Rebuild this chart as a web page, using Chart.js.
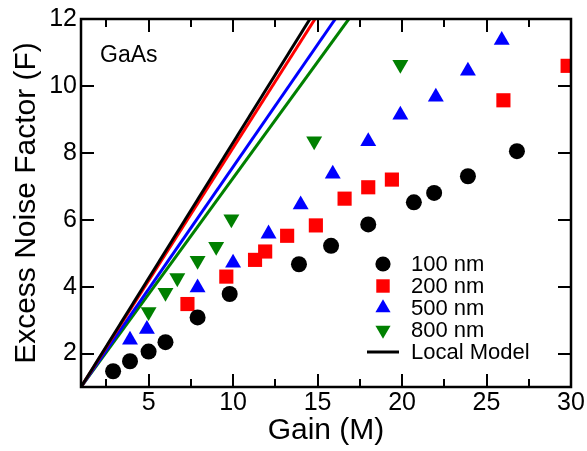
<!DOCTYPE html>
<html>
<head>
<meta charset="utf-8">
<script src="https://cdn.jsdelivr.net/npm/chart.js"></script>
<style>
html,body{margin:0;padding:0;background:#fff;}
#wrap{width:587px;height:451px;}
</style>
</head>
<body>
<div id="wrap"><canvas id="c" width="587" height="451"></canvas></div>
<script>
// ---- data ----
const gain100 = [2.9, 3.9, 5.0, 6.0, 7.9, 9.8, 13.9, 15.8, 18.0, 20.7, 21.9, 23.9, 26.8];
const f100    = [1.47, 1.77, 2.06, 2.34, 3.08, 3.78, 4.67, 5.22, 5.86, 6.52, 6.80, 7.30, 8.05];

const gain200 = [7.3, 9.6, 11.3, 11.9, 13.2, 14.9, 16.6, 18.0, 19.4, 26.0, 29.8];
const f200    = [3.48, 4.30, 4.80, 5.05, 5.52, 5.83, 6.63, 6.97, 7.20, 9.57, 10.60];

const gain500 = [3.9, 4.9, 7.9, 10.0, 12.1, 14.0, 15.9, 18.0, 19.9, 22.0, 23.9, 25.9];
const f500    = [2.41, 2.73, 3.97, 4.71, 5.58, 6.45, 7.37, 8.34, 9.13, 9.67, 10.45, 11.37];

const gain800 = [5.0, 6.0, 6.7, 7.9, 9.0, 9.9, 14.8, 19.9];
const f800    = [3.25, 3.82, 4.26, 4.78, 5.20, 6.02, 8.35, 10.64];

// Local model lines: start at (1,1), reach F = 12 at these gains
const modelStartGain = 1;
const modelStartF = 1;
const modelEndF = 12;
const modelEndGain = [14.55, 14.85, 16.05, 16.85]; // 100, 200, 500, 800 nm

const seriesLabels = ['100 nm', '200 nm', '500 nm', '800 nm'];
const modelLabel = 'Local Model';

const xLabelTicks = [5, 10, 15, 20, 25, 30];
const xMinorTicks = [2.5, 7.5, 12.5, 17.5, 22.5, 27.5];
const yLabelTicks = [2, 4, 6, 8, 10, 12];

// ---- styles ----
const FONT = "'Liberation Sans', Arial, Helvetica, sans-serif";
const colors = ['#000000', '#ff0000', '#0000ff', '#008000'];

function pts(xs, ys){ return xs.map((x,i)=>({x:x, y:ys[i]})); }

const markerDefs = [
  {pointStyle:'circle', radius:8, rotation:0},
  {pointStyle:'rect', radius:10, rotation:0},
  {pointStyle:'triangle', radius:9.2, rotation:0},
  {pointStyle:'triangle', radius:9.2, rotation:180}
];

const pointSets = [pts(gain100,f100), pts(gain200,f200), pts(gain500,f500), pts(gain800,f800)];

const datasets = [];
pointSets.forEach((d,i)=>{
  datasets.push({
    label: seriesLabels[i],
    data: d,
    showLine: false,
    pointStyle: markerDefs[i].pointStyle,
    pointRadius: markerDefs[i].radius,
    pointRotation: markerDefs[i].rotation,
    pointBackgroundColor: colors[i],
    pointBorderColor: colors[i],
    pointBorderWidth: 0,
    pointHoverRadius: markerDefs[i].radius
  });
});
modelEndGain.forEach((g,i)=>{
  datasets.push({
    label: modelLabel + ' ' + seriesLabels[i],
    data: [{x:modelStartGain, y:modelStartF},{x:g, y:modelEndF}],
    showLine: true,
    borderColor: colors[i],
    borderWidth: 3,
    pointRadius: 0,
    pointHoverRadius: 0,
    fill: false
  });
});

function drawMarker(ctx, style, r, rot, x, y, color){
  ctx.save();
  ctx.fillStyle = color;
  ctx.beginPath();
  if (style === 'circle'){
    ctx.arc(x, y, r, 0, Math.PI*2);
  } else if (style === 'rect'){
    const s = Math.SQRT1_2 * r;
    ctx.rect(x - s, y - s, 2*s, 2*s);
  } else if (style === 'triangle'){
    let a = rot * Math.PI / 180;
    ctx.moveTo(x + Math.sin(a)*r, y - Math.cos(a)*r);
    a += 2*Math.PI/3;
    ctx.lineTo(x + Math.sin(a)*r, y - Math.cos(a)*r);
    a += 2*Math.PI/3;
    ctx.lineTo(x + Math.sin(a)*r, y - Math.cos(a)*r);
    ctx.closePath();
  }
  ctx.fill();
  ctx.restore();
}

const framePlugin = {
  id: 'frame',
  afterDatasetsDraw(chart){
    const ctx = chart.ctx;
    const a = chart.chartArea;
    const xs = chart.scales.x, ys = chart.scales.y;
    ctx.save();
    ctx.strokeStyle = '#000';
    ctx.lineWidth = 2.5;
    ctx.strokeRect(a.left, a.top, a.right - a.left, a.bottom - a.top);
    ctx.beginPath();
    ctx.lineWidth = 2;
    const major = 13, minor = 8;
    xLabelTicks.forEach(v=>{
      const p = Math.round(xs.getPixelForValue(v));
      ctx.moveTo(p, a.bottom); ctx.lineTo(p, a.bottom - major);
      ctx.moveTo(p, a.top); ctx.lineTo(p, a.top + major);
    });
    xMinorTicks.forEach(v=>{
      const p = Math.round(xs.getPixelForValue(v));
      ctx.moveTo(p, a.bottom); ctx.lineTo(p, a.bottom - minor);
      ctx.moveTo(p, a.top); ctx.lineTo(p, a.top + minor);
    });
    yLabelTicks.forEach(v=>{
      const p = Math.round(ys.getPixelForValue(v));
      ctx.moveTo(a.left, p); ctx.lineTo(a.left + major, p);
      ctx.moveTo(a.right, p); ctx.lineTo(a.right - major, p);
    });
    ctx.stroke();

    // sample label
    ctx.fillStyle = '#000';
    ctx.font = '23px ' + FONT;
    ctx.textAlign = 'left';
    ctx.textBaseline = 'alphabetic';
    ctx.fillText('GaAs', a.left + 19, a.top + 43);

    // legend
    const mx = 383, tx = 411, y0 = 264, dy = 22;
    ctx.font = '22px ' + FONT;
    ctx.textBaseline = 'middle';
    for (let i = 0; i < 4; i++){
      const y = y0 + dy*i;
      drawMarker(ctx, markerDefs[i].pointStyle, markerDefs[i].radius*0.95, markerDefs[i].rotation, mx, y, colors[i]);
      ctx.fillStyle = '#000';
      ctx.fillText(seriesLabels[i], tx, y + 1);
    }
    const yl = y0 + dy*4;
    ctx.beginPath();
    ctx.lineWidth = 3;
    ctx.strokeStyle = '#000';
    ctx.moveTo(367, yl); ctx.lineTo(399, yl);
    ctx.stroke();
    ctx.fillText(modelLabel, tx, yl + 1);
    ctx.restore();
  }
};

new Chart(document.getElementById('c'), {
  type: 'scatter',
  data: { datasets: datasets },
  options: {
    responsive: false,
    animation: false,
    events: [],
    layout: { padding: { top: 17, right: 16, left: 0, bottom: 0 } },
    plugins: { legend: { display: false }, tooltip: { enabled: false } },
    scales: {
      x: {
        type: 'linear', min: 1, max: 30,
        grid: { display: false, drawTicks: false },
        border: { display: false },
        afterBuildTicks: s => { s.ticks = xLabelTicks.map(v=>({value:v})); },
        afterFit: s => { s.height = 64; },
        ticks: { color: '#000', padding: 1, maxRotation: 0, font: { family: FONT, size: 25 }, callback: v => String(v) },
        title: { display: true, text: 'Gain (M)', color: '#000', font: { family: FONT, size: 30, lineHeight: 1.2 }, padding: { top: 0, bottom: 2 } }
      },
      y: {
        type: 'linear', min: 1, max: 12,
        grid: { display: false, drawTicks: false },
        border: { display: false },
        afterBuildTicks: s => { s.ticks = yLabelTicks.map(v=>({value:v})); },
        afterFit: s => { s.width = 81; },
        ticks: { color: '#000', padding: 4, font: { family: FONT, size: 25 }, callback: v => String(v) },
        title: { display: true, text: 'Excess Noise Factor (F)', color: '#000', font: { family: FONT, size: 30, lineHeight: 1.2 }, padding: { top: 9, bottom: 0 } }
      }
    }
  },
  plugins: [framePlugin]
});
</script>
</body>
</html>
